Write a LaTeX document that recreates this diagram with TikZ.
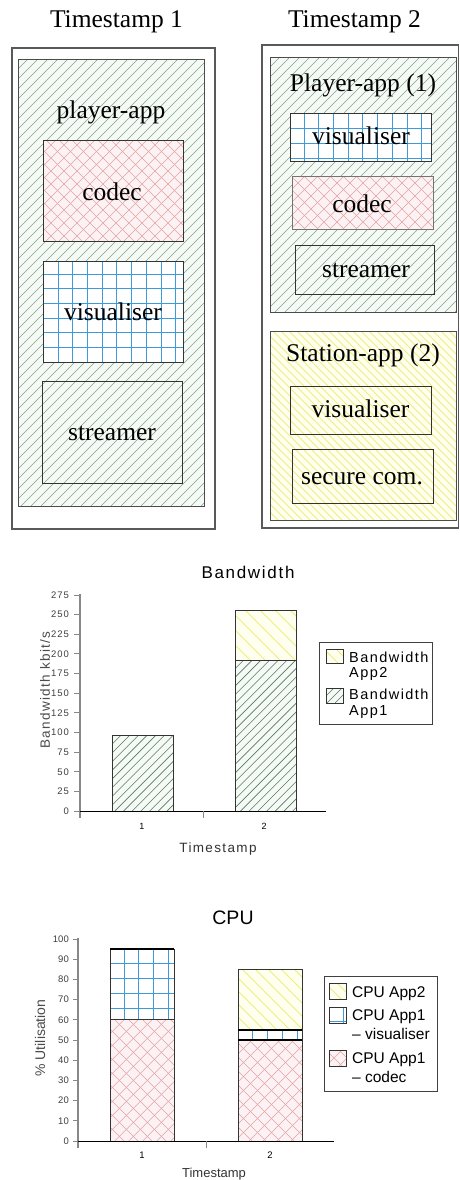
\documentclass[tikz,border=0pt]{standalone}
\usepackage{fontspec}
\setmainfont{Liberation Serif}
\newfontfamily\chartfont{Liberation Sans}[LetterSpace=10]
\newfontfamily\cpufont{Liberation Sans}
\definecolor{hgreen}{HTML}{7FA383}
\definecolor{hgreenD}{HTML}{587A5C}
\definecolor{gfill}{HTML}{F6FAF6}
\definecolor{hpink}{HTML}{E3A3A6}
\definecolor{pfill}{HTML}{FCF2F3}
\definecolor{hblue}{HTML}{3D9BDB}
\definecolor{hyellow}{HTML}{EDED80}
\definecolor{yfill}{HTML}{FFFFF0}
\definecolor{edge}{HTML}{444444}
\definecolor{axisgrey}{HTML}{888888}

% diagonal hatch "/" : x1 y1 x2 y2 step style
\newcommand\hatchup[6]{\begin{scope}
  \clip (#1,#2) rectangle (#3,#4);
  \pgfmathsetmacro\hhgt{#4-#2}
  \pgfmathtruncatemacro\nnum{(#3-#1+\hhgt)/#5+1}
  \foreach \i in {0,...,\nnum}{\draw[#6] ({#1-\hhgt+\i*#5},#4) -- ++(\hhgt,-\hhgt);}
\end{scope}}
% diagonal hatch "\" : x1 y1 x2 y2 step style
\newcommand\hatchdown[6]{\begin{scope}
  \clip (#1,#2) rectangle (#3,#4);
  \pgfmathsetmacro\hhgt{#4-#2}
  \pgfmathtruncatemacro\nnum{(#3-#1+\hhgt)/#5+1}
  \foreach \i in {0,...,\nnum}{\draw[#6] ({#1-\hhgt+\i*#5},#2) -- ++(\hhgt,\hhgt);}
\end{scope}}
% grid : x1 y1 x2 y2 dx dy ox oy style
\newcommand\gridfill[9]{\begin{scope}
  \clip (#1,#2) rectangle (#3,#4);
  \pgfmathtruncatemacro\nx{(#3-#1)/#5+1}
  \pgfmathtruncatemacro\ny{(#4-#2)/#6+1}
  \foreach \i in {0,...,\nx}{\draw[#9] ({#1+#7+\i*#5},#2) -- ({#1+#7+\i*#5},#4);}
  \foreach \i in {0,...,\ny}{\draw[#9] (#1,{#2+#8+\i*#6}) -- (#3,{#2+#8+\i*#6});}
\end{scope}}

\begin{document}
\begin{tikzpicture}[x=1pt,y=-1pt,
  outerbox/.style={draw=black!65, line width=1.2pt},
  appbox/.style={draw=black!70, line width=0.9pt},
  compbox/.style={draw=black!80, line width=0.9pt},
  lbl/.style={font=\fontsize{25.5}{30}\selectfont, inner sep=0pt, anchor=base},
  gh/.style={hgreen, line width=0.6pt},
  ghd/.style={hgreenD, line width=0.6pt},
  ph/.style={hpink, line width=0.6pt},
  bh/.style={hblue, line width=0.7pt},
  yh/.style={hyellow, line width=0.8pt},
  bar/.style={draw=black!80, line width=0.9pt},
  tick/.style={draw=axisgrey, line width=0.9pt},
  bwtick/.style={font=\chartfont\fontsize{9.5}{10}\selectfont, inner sep=0pt, anchor=east, text=black!75},
  cputick/.style={font=\cpufont\fontsize{9.5}{10}\selectfont, inner sep=0pt, anchor=east, text=black!75},
  bwtxt/.style={font=\chartfont\fontsize{14.5}{16}\selectfont, inner sep=0pt, anchor=base west},
  cputxt/.style={font=\cpufont\fontsize{15.5}{17}\selectfont, inner sep=0pt, anchor=base west},
]
\useasboundingbox[fill=white] (0,0) rectangle (459,1180);

%================ Timestamp 1 =================
\node[lbl] (t1) at (116.5,28) {Timestamp 1};
\draw[outerbox] (12,48) rectangle (215,529);
\fill[gfill] (18,59) rectangle (204,506);
\hatchup{18}{59}{204}{506}{10}{gh}
% codec
\fill[pfill] (43,140) rectangle (183,241);
\hatchup{43}{140}{183}{241}{13}{ph}
\hatchdown{43}{140}{183}{241}{13}{ph}
% visualiser
\fill[white] (43,261) rectangle (183,362);
\gridfill{43}{261}{183}{362}{14.7}{14.7}{15}{13}{bh}
\draw[appbox] (18,59) rectangle (204,506);
\draw[compbox] (43,140) rectangle (183,241);
\draw[compbox] (43,261) rectangle (183,362);
\draw[compbox] (42,381) rectangle (182,483);
\node[lbl] (pa1) at (111,118) {player-app};
\node[lbl] (cd1) at (112,200) {codec};
\node[lbl] (vs1) at (113,320) {visualiser};
\node[lbl] (st1) at (112,440) {streamer};

%================ Timestamp 2 =================
\node[lbl] (t2) at (354.5,28) {Timestamp 2};
\draw[outerbox] (262,45) rectangle (458.4,528);
\fill[gfill] (270,57) rectangle (456,312);
\hatchup{270}{57}{456}{312}{10}{gh}
\fill[white] (290,113) rectangle (431,161);
\gridfill{290}{113}{431}{161}{14.7}{15}{14}{15}{bh}
\fill[pfill] (292,176) rectangle (433,229);
\hatchup{292}{176}{433}{229}{13}{ph}
\hatchdown{292}{176}{433}{229}{13}{ph}
\draw[appbox] (270,57) rectangle (456,312);
\draw[compbox] (290,113) rectangle (431,161);
\draw[draw=black!55, line width=0.9pt] (292,176) rectangle (433,229);
\draw[compbox] (295,245) rectangle (434,294);
\fill[yfill] (270,331) rectangle (456,520);
\hatchdown{270}{331}{456}{520}{8}{yh}
\draw[appbox] (270,331) rectangle (456,520);
\draw[compbox] (290,386) rectangle (431,434);
\draw[compbox] (292,449) rectangle (433,503);
\node[lbl] (pa2) at (363,92) {Player-app (1)};
\node[lbl] (vs2) at (361,145) {visualiser};
\node[lbl] (cd2) at (362,212) {codec};
\node[lbl] (st2) at (366,277) {streamer};
\node[lbl] (sa2) at (363,361) {Station-app (2)};
\node[lbl] (vs3) at (360.5,417) {visualiser};
\node[lbl] (sc3) at (362,484) {secure com.};

%================ Bandwidth chart =================
\node[font=\chartfont\fontsize{17}{20}\selectfont, inner sep=0pt, anchor=base] (bwtitle) at (248,578) {Bandwidth};
% bars
\fill[gfill] (112,735.6) rectangle (173,811);
\hatchup{112}{735.6}{173}{811}{8.7}{ghd}
\draw[bar] (112,735.6) rectangle (173,811);
\fill[gfill] (235,660) rectangle (296,811);
\hatchup{235}{660}{296}{811}{8.7}{ghd}
\fill[yfill] (235,610) rectangle (296,660);
\hatchdown{235}{610}{296}{660}{15}{yh}
\draw[bar] (235,610) rectangle (296,811);
\draw[bar] (235,660) -- (296,660);
% axes
\foreach \v in {0,25,...,275}{
  \draw[tick] (74,{811-\v*0.7855}) -- (80,{811-\v*0.7855});
  \node[bwtick] at (69,{811-\v*0.7855}) {\v};
}
\draw[draw=axisgrey, line width=1.5pt] (80,594) -- (80,818);
\draw[draw=black, line width=1pt] (80,811) -- (326,811);
\draw[tick] (203,811) -- (203,818);
\node[font=\chartfont\fontsize{9}{10}\selectfont, inner sep=0pt] (bx1) at (142,826) {1};
\node[font=\chartfont\fontsize{9}{10}\selectfont, inner sep=0pt] (bx2) at (264,826) {2};
\node[font=\chartfont\fontsize{13.5}{15}\selectfont, inner sep=0pt, anchor=base, text=black!80] (bxl) at (218,852) {Timestamp};
\node[font=\chartfont\fontsize{13.5}{15}\selectfont, inner sep=0pt, rotate=90, text=black!70] (byl) at (45,690) {Bandwidth kbit/s};
% legend
\draw[draw=black!75, line width=0.9pt] (319,642) rectangle (432,724);
\fill[yfill] (326,649) rectangle (343,663);
\hatchdown{326}{649}{343}{663}{12}{yh}
\draw[draw=black!80, line width=0.8pt] (326,649) rectangle (343,663);
\fill[gfill] (326,688) rectangle (343,703);
\hatchup{326}{688}{343}{703}{8}{ghd}
\draw[draw=black!80, line width=0.8pt] (326,688) rectangle (343,703);
\node[bwtxt] (bl1) at (349,662) {Bandwidth};
\node[bwtxt] (bl2) at (349,677) {App2};
\node[bwtxt] (bl3) at (349,699) {Bandwidth};
\node[bwtxt] (bl4) at (349,715) {App1};

%================ CPU chart =================
\node[font=\cpufont\fontsize{19.5}{22}\selectfont, inner sep=0pt, anchor=base] (cputitle) at (233,924) {CPU};
% bar 1
\fill[pfill] (110,1019.8) rectangle (174,1141);
\hatchup{110}{1019.8}{174}{1141}{14}{ph}
\hatchdown{110}{1019.8}{174}{1141}{14}{ph}
\fill[white] (110,949) rectangle (174,1019.8);
\gridfill{110}{949}{174}{1019.8}{14.8}{15}{14}{14}{bh}
\draw[bar] (110,949) rectangle (174,1141);
\draw[bar] (110,1019.8) -- (174,1019.8);
\draw[draw=black, line width=1.3pt] (110,949) -- (174,949);
% bar 2
\fill[pfill] (238,1040) rectangle (302,1141);
\hatchup{238}{1040}{302}{1141}{14}{ph}
\hatchdown{238}{1040}{302}{1141}{14}{ph}
\fill[white] (238,1030) rectangle (302,1040);
\gridfill{238}{1030}{302}{1040}{15}{15}{14}{14}{bh}
\fill[yfill] (238,969.3) rectangle (302,1030);
\hatchdown{238}{969.3}{302}{1030}{13}{yh}
\draw[bar] (238,969.3) rectangle (302,1141);
\draw[draw=black, line width=1.1pt] (238,1030) -- (302,1030);
\draw[draw=black, line width=1.1pt] (238,1040) -- (302,1040);
% axes
\foreach \v in {0,10,...,100}{
  \draw[tick] (73,{1141-\v*2.02}) -- (78,{1141-\v*2.02});
  \node[cputick] at (69,{1141-\v*2.02}) {\v};
}
\draw[draw=axisgrey, line width=1.4pt] (78,938) -- (78,1148);
\draw[draw=black, line width=1pt] (78,1141) -- (334,1141);
\draw[tick] (206,1141) -- (206,1148);
\node[font=\cpufont\fontsize{9.5}{10}\selectfont, inner sep=0pt] (cx1) at (142,1155) {1};
\node[font=\cpufont\fontsize{9.5}{10}\selectfont, inner sep=0pt] (cx2) at (270,1155) {2};
\node[font=\cpufont\fontsize{13}{15}\selectfont, inner sep=0pt, anchor=base, text=black!80] (cxl) at (214,1177) {Timestamp};
\node[font=\cpufont\fontsize{14}{15}\selectfont, inner sep=0pt, rotate=90, text=black!70] (cyl) at (40,1038) {\% Utilisation};
% legend
\draw[draw=black!75, line width=0.9pt] (324,976) rectangle (437,1091);
\fill[yfill] (329,983) rectangle (346,999);
\hatchdown{329}{983}{346}{999}{12}{yh}
\draw[draw=black!80, line width=0.8pt] (329,983) rectangle (346,999);
\fill[white] (329,1007) rectangle (346,1023);
\gridfill{329}{1007}{346}{1023}{15}{15}{14}{14}{bh}
\draw[draw=black!80, line width=0.8pt] (329,1007) rectangle (346,1023);
\fill[pfill] (329,1050) rectangle (346,1066);
\hatchup{329}{1050}{346}{1066}{13}{ph}
\hatchdown{329}{1050}{346}{1066}{13}{ph}
\draw[draw=black!80, line width=0.8pt] (329,1050) rectangle (346,1066);
\node[cputxt] (cl1) at (352,997) {CPU App2};
\node[cputxt] (cl2) at (352,1020) {CPU App1};
\node[cputxt] (cl3) at (352,1039) {– visualiser};
\node[cputxt] (cl4) at (352,1063) {CPU App1};
\node[cputxt] (cl5) at (352,1082) {– codec};
\end{tikzpicture}
\end{document}
